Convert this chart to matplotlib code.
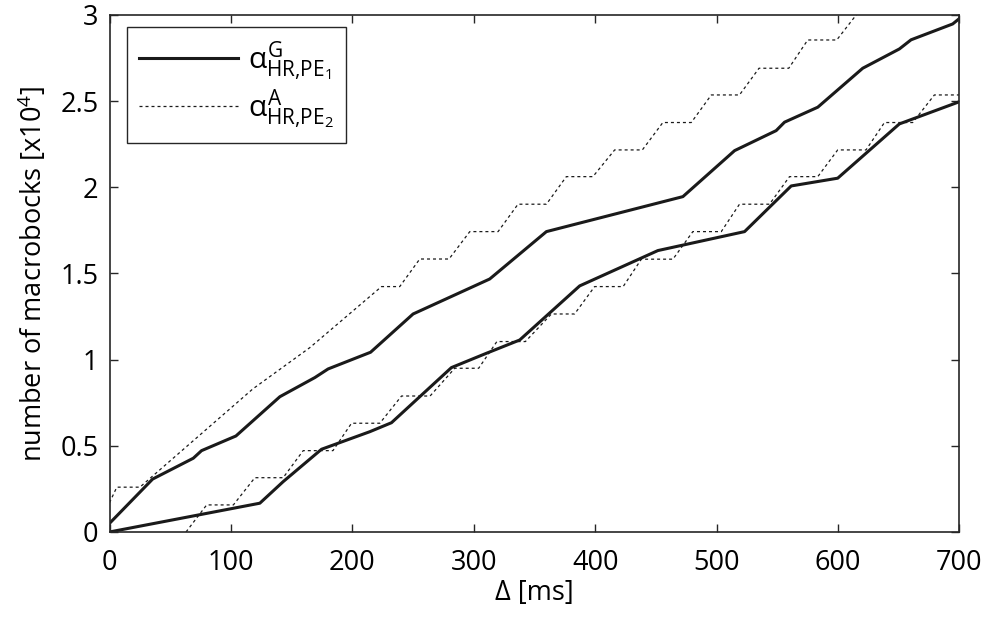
import matplotlib
matplotlib.use('Agg')
import matplotlib.pyplot as plt
from matplotlib import rc

FONT_SIZE = 19.5
rc('font', family='Open Sans', size=FONT_SIZE)
rc('mathtext', fontset='custom', rm='Open Sans', it='Open Sans', bf='Open Sans')

# upper solid curve
g1_x = [0, 35.5, 69, 75.8, 104.1, 140.3, 169.1, 180, 215, 250, 313.1, 359.8, 472.2,
        514.8, 549, 555.9, 583.3, 620.3, 650.5, 660.1, 694.4, 700]
g1_y = [0.05, 0.307, 0.428, 0.472, 0.557, 0.785, 0.896, 0.946, 1.043, 1.265, 1.468, 1.743,
        1.946, 2.213, 2.329, 2.378, 2.465, 2.691, 2.803, 2.856, 2.948, 2.98]

# lower solid curve
g2_x = [0, 123.8, 143, 174.6, 214.4, 232.2, 281.6, 310.4, 337.8, 387.2, 451.6, 523,
        561.4, 599.7, 650.5, 700]
g2_y = [0, 0.167, 0.292, 0.48, 0.582, 0.634, 0.954, 1.037, 1.114, 1.428, 1.633, 1.743,
        2.008, 2.053, 2.368, 2.497]

# upper dotted staircase
a1_x = [0, 6, 25, 118, 165, 224, 239, 255.5, 279.6, 296.7, 320, 336.4, 359.8, 376.2,
        398.1, 416, 438.8, 455.7, 479.1, 495.6, 518.8, 534.9, 559.4, 575, 598.9, 614.9, 630]
a1_y = [0.17, 0.26, 0.26, 0.83, 1.07, 1.424, 1.424, 1.584, 1.584, 1.743, 1.743, 1.902,
        1.902, 2.062, 2.062, 2.217, 2.217, 2.376, 2.376, 2.536, 2.536, 2.691, 2.691,
        2.855, 2.855, 3.0, 3.15]

# lower dotted staircase
a2_x = [63, 80, 102, 119.7, 143, 159.5, 184, 199.3, 222.6, 240.5, 264, 284.3, 304,
        319, 342.5, 363.9, 383, 399.5, 423, 438, 464, 480.4, 503.8, 518.8, 543.5, 560,
        583.3, 599.7, 623, 638.2, 661.5, 679.3, 700]
a2_y = [0, 0.157, 0.157, 0.315, 0.315, 0.472, 0.472, 0.631, 0.631, 0.789, 0.789, 0.95,
        0.95, 1.105, 1.105, 1.265, 1.265, 1.424, 1.424, 1.583, 1.583, 1.743, 1.743,
        1.902, 1.902, 2.062, 2.062, 2.217, 2.217, 2.376, 2.376, 2.536, 2.536]

fig = plt.figure(figsize=(9.84, 6.17), dpi=100)
ax = fig.add_axes([0.1113, 0.1378, 0.8638, 0.8379])

dot = (0, (2.4, 2.4))
ax.plot(g1_x, g1_y, '-', color='#1a1a1a', lw=2.2,
        label=r'$\alpha^{\mathrm{G}}_{\mathrm{HR{,}PE_1}}$')
ax.plot(a1_x, a1_y, color='#1a1a1a', lw=0.9, linestyle=dot,
        label=r'$\alpha^{\mathrm{A}}_{\mathrm{HR{,}PE_2}}$')
ax.plot(g2_x, g2_y, '-', color='#1a1a1a', lw=2.2)
ax.plot(a2_x, a2_y, color='#1a1a1a', lw=0.9, linestyle=dot)

ax.set_xlim(0, 700)
ax.set_ylim(0, 3)
ax.set_xticks(range(0, 701, 100))
ax.set_yticks([0, 0.5, 1, 1.5, 2, 2.5, 3])
ax.set_yticklabels(['0', '0.5', '1', '1.5', '2', '2.5', '3'])
ax.tick_params(direction='in', top=True, right=True, length=6, width=1,
               labelsize=FONT_SIZE, color='#262626')
ax.tick_params(axis='x', pad=12)
ax.tick_params(axis='y', pad=8)
for s in ax.spines.values():
    s.set_linewidth(1.2)
    s.set_color('#262626')

ax.set_xlabel('\u0394 [ms]', fontsize=FONT_SIZE, labelpad=2)
ax.set_ylabel(r'number of macrobocks [x10$^4$]', fontsize=FONT_SIZE, labelpad=8)

leg = ax.legend(loc='upper left', bbox_to_anchor=(0.021, 0.977), borderaxespad=0,
                fontsize=21.5, handlelength=3.3, handletextpad=0.35, fancybox=False,
                framealpha=1, edgecolor='#262626', labelspacing=0.15, borderpad=0.4)
leg.get_frame().set_linewidth(1.0)

plt.savefig('out.png', dpi=100)
